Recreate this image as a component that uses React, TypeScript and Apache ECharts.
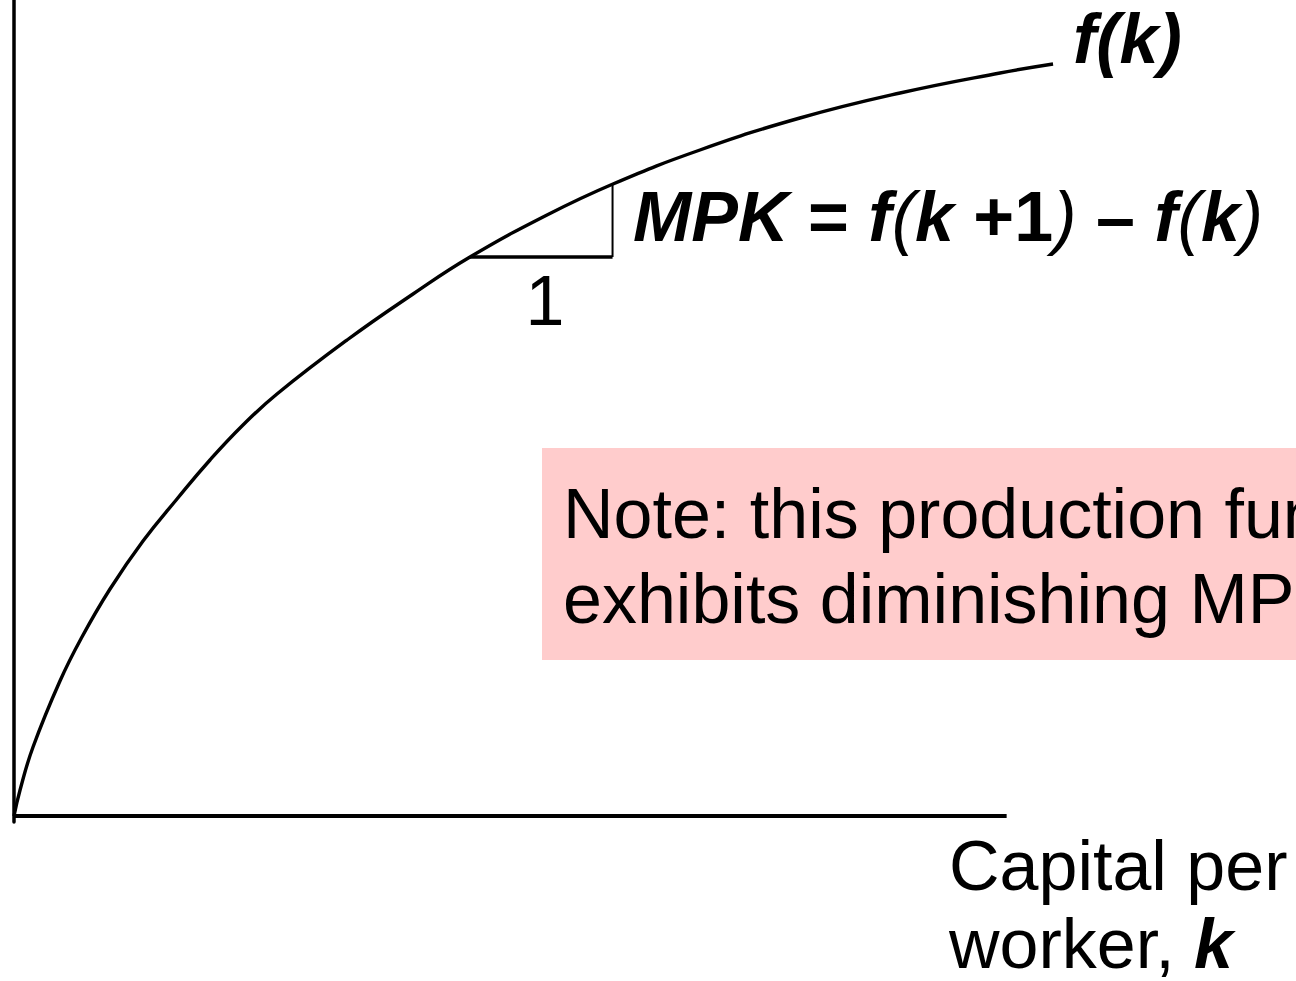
import React, { useEffect, useRef } from "react";
import * as echarts from "echarts";

// Production function f(k)
const kValues = [0, 0.043, 0.135, 0.326, 0.482, 0.681, 0.915, 1.156, 1.39, 1.624, 1.865, 2.362, 2.83, 3.234, 3.78, 4.248, 4.865, 5.574, 6.284, 6.993, 7.369];
const fValues = [0, 0.26, 0.69, 1.35, 1.79, 2.27, 2.75, 3.17, 3.56, 3.91, 4.22, 4.76, 5.22, 5.59, 6.01, 6.32, 6.66, 6.98, 7.23, 7.43, 7.52];

// MPK triangle
const kStart = [3.234];
const kEnd = [4.245];
const fAtK = [5.59];
const fAtK1 = [6.31];

// Horizontal axis extent
const kAxisMax = [7.04];

const FONT = "'Liberation Sans', Arial, Helvetica, sans-serif";

export default function App() {
  const ref = useRef<HTMLDivElement>(null);
  useEffect(() => {
    if (!ref.current) return;
    const chart = echarts.init(ref.current, undefined, { renderer: "svg" });
    const curve = kValues.map((k, i) => [k, fValues[i]]);
    chart.setOption({
      animation: false,
      backgroundColor: "#ffffff",
      grid: { left: 14, top: 0, width: 1057.5, height: 822 },
      xAxis: {
        type: "value",
        min: 0,
        max: 7.5,
        axisLine: { show: false },
        axisTick: { show: false },
        axisLabel: { show: false },
        splitLine: { show: false },
      },
      yAxis: {
        type: "value",
        min: -0.06,
        max: 8.16,
        axisLine: { show: true, onZero: true, lineStyle: { color: "#000", width: 3.5 } },
        axisTick: { show: false },
        axisLabel: { show: false },
        splitLine: { show: false },
      },
      series: [
        {
          name: "k axis",
          type: "line",
          data: [
            [0, 0],
            [kAxisMax[0], 0],
          ],
          symbol: "none",
          lineStyle: { color: "#000", width: 4 },
          silent: true,
        },
        {
          name: "f(k)",
          type: "line",
          data: curve,
          smooth: 0.45,
          symbol: "none",
          lineStyle: { color: "#000", width: 3.4 },
          silent: true,
        },
        {
          name: "run",
          type: "line",
          data: [
            [kStart[0], fAtK[0]],
            [kEnd[0], fAtK[0]],
          ],
          symbol: "none",
          lineStyle: { color: "#000", width: 3.3 },
          silent: true,
        },
        {
          name: "rise",
          type: "line",
          data: [
            [kEnd[0], fAtK[0]],
            [kEnd[0], fAtK1[0]],
          ],
          symbol: "none",
          lineStyle: { color: "#000", width: 2 },
          silent: true,
        },
      ],
      graphic: [
        {
          type: "rect",
          shape: { x: 542, y: 448, width: 800, height: 212 },
          style: { fill: "#ffcccc" },
          z: 0,
        },
        {
          type: "text",
          x: 563,
          y: 514,
          style: {
            text: "Note: this production function",
            font: `normal 70px ${FONT}`,
            fill: "#000",
            textAlign: "left",
            textVerticalAlign: "middle",
          },
          z: 10,
        },
        {
          type: "text",
          x: 563,
          y: 599,
          style: {
            text: "exhibits diminishing MPK",
            font: `normal 70px ${FONT}`,
            fill: "#000",
            textAlign: "left",
            textVerticalAlign: "middle",
          },
          z: 10,
        },
        {
          type: "text",
          x: 1073,
          y: 39,
          style: {
            text: "f(k)",
            font: `italic bold 70px ${FONT}`,
            fill: "#000",
            textAlign: "left",
            textVerticalAlign: "middle",
          },
          z: 10,
        },
        {
          type: "text",
          x: 633,
          y: 217,
          style: {
            text: "{bi|MPK}{b| = }{bi|f}{i|(}{bi|k}{b| +1}{i|)}{b| – }{bi|f}{i|(}{bi|k}{i|)}",
            fill: "#000",
            textAlign: "left",
            textVerticalAlign: "middle",
            rich: {
              bi: { fontFamily: FONT, fontSize: 70, fontWeight: "bold", fontStyle: "italic", fill: "#000", lineHeight: 80 },
              b: { fontFamily: FONT, fontSize: 70, fontWeight: "bold", fill: "#000", lineHeight: 80 },
              i: { fontFamily: FONT, fontSize: 70, fontStyle: "italic", fill: "#000", lineHeight: 80 },
            },
          },
          z: 10,
        },
        {
          type: "text",
          x: 545,
          y: 301,
          style: {
            text: "1",
            font: `normal 70px ${FONT}`,
            fill: "#000",
            textAlign: "center",
            textVerticalAlign: "middle",
          },
          z: 10,
        },
        {
          type: "text",
          x: 949,
          y: 866,
          style: {
            text: "Capital per",
            font: `normal 70px ${FONT}`,
            fill: "#000",
            textAlign: "left",
            textVerticalAlign: "middle",
          },
          z: 10,
        },
        {
          type: "text",
          x: 949,
          y: 944,
          style: {
            text: "{r|worker, }{bi|k}",
            fill: "#000",
            textAlign: "left",
            textVerticalAlign: "middle",
            rich: {
              r: { fontFamily: FONT, fontSize: 70, fill: "#000", lineHeight: 80 },
              bi: { fontFamily: FONT, fontSize: 70, fontWeight: "bold", fontStyle: "italic", fill: "#000", lineHeight: 80 },
            },
          },
          z: 10,
        },
      ],
    });
    return () => chart.dispose();
  }, []);
  return (
    <div
      ref={ref}
      style={{ position: "absolute", left: 0, top: 0, width: 1296, height: 981, background: "#fff" }}
    />
  );
}
